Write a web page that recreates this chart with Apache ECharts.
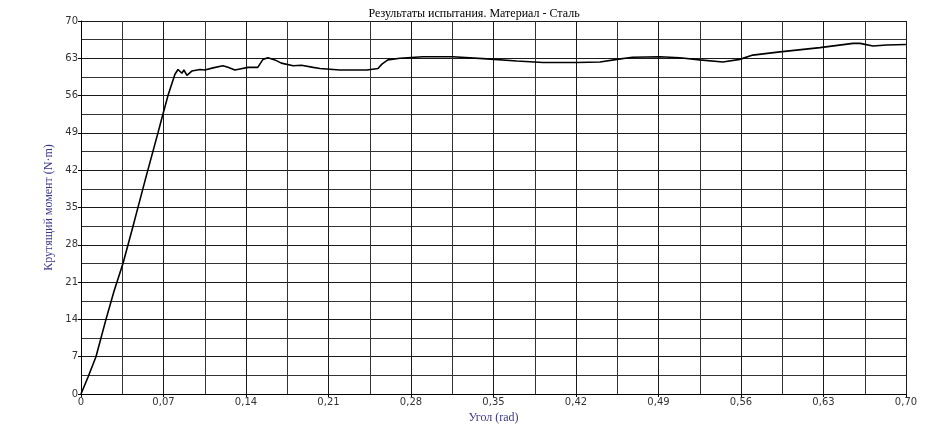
<!DOCTYPE html>
<html>
<head>
<meta charset="utf-8">
<script src="https://cdn.jsdelivr.net/npm/echarts@6/dist/echarts.min.js"></script>
<style>html,body{margin:0;padding:0;background:#fff}#c{width:940px;height:434px}</style>
</head>
<body>
<div id="c"></div>
<script>
var titleText = 'Результаты испытания. Материал - Сталь';
var xName = 'Угол (rad)';
var yName = 'Крутящий момент (N·m)';
var angle = [0, 0.006, 0.0127, 0.0212, 0.028, 0.0356, 0.045, 0.055, 0.0653, 0.0695, 0.0738, 0.0797, 0.0823, 0.0856, 0.0873, 0.0899, 0.094, 0.1009, 0.105, 0.112, 0.1204, 0.1247, 0.1306, 0.1348, 0.1416, 0.150, 0.1544, 0.1586, 0.1645, 0.170, 0.180, 0.187, 0.197, 0.2027, 0.2197, 0.2426, 0.252, 0.2553, 0.2604, 0.2706, 0.290, 0.3155, 0.3444, 0.3698, 0.392, 0.4208, 0.4404, 0.4548, 0.468, 0.4912, 0.508, 0.525, 0.5446, 0.559, 0.570, 0.593, 0.627, 0.655, 0.661, 0.672, 0.6835, 0.70];
var torque = [0, 3.2, 7, 14, 19.3, 24.5, 32.2, 40.6, 49, 52.5, 56, 60.0, 60.9, 60.2, 60.8, 59.8, 60.6, 60.9, 60.8, 61.2, 61.6, 61.3, 60.8, 61.0, 61.3, 61.3, 62.8, 63.1, 62.7, 62.1, 61.6, 61.7, 61.3, 61.1, 60.8, 60.8, 61.1, 61.9, 62.7, 63.0, 63.3, 63.3, 62.9, 62.5, 62.2, 62.2, 62.3, 62.8, 63.2, 63.3, 63.1, 62.7, 62.3, 62.8, 63.6, 64.2, 65.0, 65.8, 65.8, 65.3, 65.5, 65.6];
var xTicks = [0, 0.07, 0.14, 0.21, 0.28, 0.35, 0.42, 0.49, 0.56, 0.63, 0.70];
var yTicks = [0, 7, 14, 21, 28, 35, 42, 49, 56, 63, 70];

var data = angle.map(function (a, i) { return [a, torque[i]]; });
var chart = echarts.init(document.getElementById('c'), null, {renderer: 'canvas'});
var lblFont = {color: '#333', fontFamily: 'DejaVu Sans', fontSize: 10};
chart.setOption({
  animation: false,
  backgroundColor: '#fff',
  title: {
    text: titleText, left: 469, top: 3, textAlign: 'center',
    textStyle: {fontFamily: 'Liberation Serif', fontSize: 12, fontWeight: 'normal', color: '#000'}
  },
  grid: {left: 81, right: 34, top: 21, bottom: 40},
  xAxis: {
    type: 'value', min: xTicks[0], max: xTicks[xTicks.length - 1], interval: 0.07,
    name: xName, nameLocation: 'middle', nameGap: 16,
    nameTextStyle: {fontFamily: 'Liberation Serif', fontSize: 12, color: '#3a3a8a'},
    axisLine: {show: true, lineStyle: {color: '#000', width: 1}},
    axisTick: {show: true, length: 3, lineStyle: {color: '#000'}},
    axisLabel: Object.assign({margin: 3, formatter: function (v) { return v === 0 ? '0' : v.toFixed(2).replace('.', ','); }}, lblFont),
    splitLine: {show: true, lineStyle: {color: '#1a1a1a', width: 1}},
    minorTick: {show: false, splitNumber: 2},
    minorSplitLine: {show: true, lineStyle: {color: '#333', width: 1}}
  },
  yAxis: {
    type: 'value', min: yTicks[0], max: yTicks[yTicks.length - 1], interval: 7,
    name: yName, nameLocation: 'middle', nameGap: 24, nameRotate: 90,
    nameTextStyle: {fontFamily: 'Liberation Serif', fontSize: 12, color: '#3a3a8a'},
    axisLine: {show: true, lineStyle: {color: '#000', width: 1}},
    axisTick: {show: true, length: 3, lineStyle: {color: '#000'}},
    axisLabel: Object.assign({margin: 3}, lblFont),
    splitLine: {show: true, lineStyle: {color: '#1a1a1a', width: 1}},
    minorTick: {show: false, splitNumber: 2},
    minorSplitLine: {show: true, lineStyle: {color: '#333', width: 1}}
  },
  series: [{
    type: 'line', data: data, showSymbol: false, smooth: false,
    lineStyle: {color: '#000', width: 1.6}
  }]
});
</script>
</body>
</html>
